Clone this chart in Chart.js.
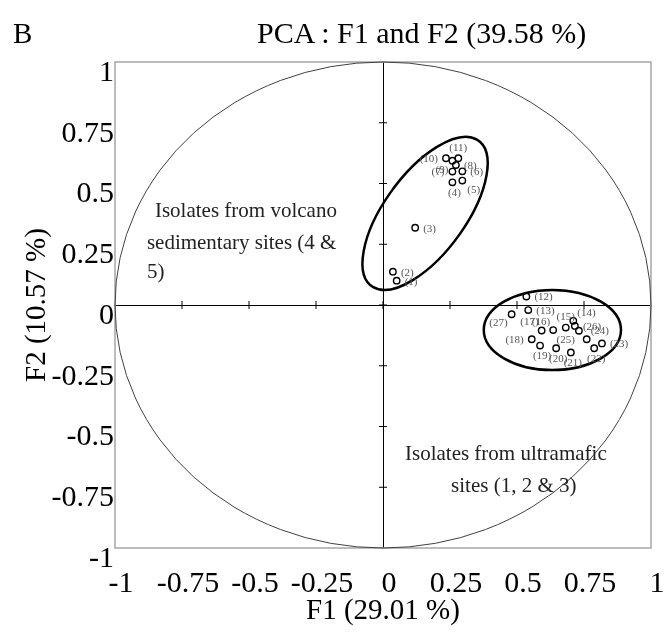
<!DOCTYPE html>
<html>
<head>
<meta charset="utf-8">
<script src="https://cdn.jsdelivr.net/npm/chart.js@4.4.1/dist/chart.umd.min.js"></script>
<style>
  body { margin: 0; background: #fff; }
  #wrap { position: relative; width: 664px; height: 634px; font-family: 'Liberation Serif', 'Times New Roman', serif; color: #000; }
  #panel { position: absolute; left: 13px; top: 18px; font-size: 29px; line-height: 30px; }
  #title { position: absolute; left: 257px; top: 18px; font-size: 30px; line-height: 30px; white-space: nowrap; }
  canvas { position: absolute; left: 0; top: 0; }
</style>
</head>
<body>
<div id="wrap">
  <canvas id="pcaChart" width="664" height="634"></canvas>
  <div id="panel">B</div>
  <div id="title">PCA : F1 and F2 (39.58 %)</div>
</div>
<script>
// isolates 1-11: volcano sedimentary sites, 12-27: ultramafic sites
const isolates = ['1','2','3','4','5','6','7','8','9','10','11','12','13','14','15','16','17','18','19','20','21','22','23','24','25','26','27'];
const f1 = [0.051, 0.037, 0.120, 0.259, 0.296, 0.296, 0.259, 0.272, 0.259, 0.235, 0.281,
            0.535, 0.542, 0.710, 0.682, 0.635, 0.592, 0.555, 0.586, 0.646, 0.701, 0.788, 0.817, 0.760, 0.731, 0.716, 0.480];
const f2 = [0.100, 0.137, 0.318, 0.505, 0.512, 0.550, 0.549, 0.576, 0.594, 0.604, 0.604,
            0.035, -0.021, -0.065, -0.093, -0.103, -0.105, -0.141, -0.167, -0.178, -0.195, -0.178, -0.158, -0.141, -0.106, -0.086, -0.038];
// where the "(n)" label sits around its point
const labelSide = ['r','r','r','b','br','r','l','r','bl','l','t',
                   'r','r','tr','t','tl','tl','l','b','b','b','b','r','tr','bl','r','bl'];
const axisTicks = [-1, -0.75, -0.5, -0.25, 0, 0.25, 0.5, 0.75, 1];

// correlation circle and the two group ellipses (data units, angle in degrees)
const shapes = [
  { cx: 0, cy: 0, a: 1, b: 1, angle: 0, color: '#404040', width: 1 },
  { cx: 0.157, cy: 0.377, a: 0.36, b: 0.155, angle: 57.5, color: '#000', width: 2.5 },
  { cx: 0.632, cy: -0.103, a: 0.256, b: 0.165, angle: 0, color: '#000', width: 2.5 }
];
const notes = [
  { text: 'Isolates from volcano', x: -0.851, y: 0.383 },
  { text: 'sedimentary sites (4 &', x: -0.881, y: 0.255 },
  { text: '5)', x: -0.881, y: 0.132 },
  { text: 'Isolates from ultramafic', x: 0.082, y: -0.617 },
  { text: 'sites (1, 2 & 3)', x: 0.254, y: -0.745 }
];

const serif = "'Liberation Serif', 'Times New Roman', serif";
const sideOffset = {
  r: [8, 1, 'left'], l: [-8, 1, 'right'], t: [0, -10, 'center'], b: [2, 11, 'center'],
  tr: [4, -8, 'left'], tl: [-3, -8, 'right'], br: [5, 10, 'left'], bl: [-4, 9, 'right']
};

function traceEllipse(ctx, x, y, s) {
  const sx = x.getPixelForValue(1) - x.getPixelForValue(0);
  const sy = y.getPixelForValue(0) - y.getPixelForValue(1);
  ctx.save();
  ctx.translate(x.getPixelForValue(s.cx), y.getPixelForValue(s.cy));
  ctx.scale(sx, -sy);
  ctx.rotate(s.angle * Math.PI / 180);
  ctx.beginPath();
  ctx.ellipse(0, 0, s.a, s.b, 0, 0, Math.PI * 2);
  ctx.restore();
}

const pcaDecor = {
  id: 'pcaDecor',
  beforeDatasetsDraw(chart) {
    const { ctx, chartArea: area, scales: { x, y } } = chart;
    ctx.save();
    ctx.strokeStyle = '#a6a6a6';
    ctx.lineWidth = 1.5;
    ctx.strokeRect(area.left, area.top, area.right - area.left, area.bottom - area.top);

    // small crossing ticks on the two zero lines
    const x0 = x.getPixelForValue(0), y0 = y.getPixelForValue(0);
    ctx.strokeStyle = '#000';
    ctx.lineWidth = 1;
    ctx.beginPath();
    axisTicks.forEach(v => {
      if (Math.abs(v) === 1) return;
      const px = x.getPixelForValue(v), py = y.getPixelForValue(v);
      ctx.moveTo(px, y0 - 4); ctx.lineTo(px, y0 + 4);
      ctx.moveTo(x0 - 4, py); ctx.lineTo(x0 + 4, py);
    });
    ctx.stroke();

    shapes.forEach(s => {
      traceEllipse(ctx, x, y, s);
      ctx.strokeStyle = s.color;
      ctx.lineWidth = s.width;
      ctx.stroke();
    });
    ctx.restore();
  },
  afterDatasetsDraw(chart) {
    const { ctx, scales: { x, y } } = chart;
    const meta = chart.getDatasetMeta(0);
    ctx.save();
    ctx.font = '11px ' + serif;
    ctx.fillStyle = '#555';
    ctx.textBaseline = 'middle';
    meta.data.forEach((pt, i) => {
      const o = sideOffset[labelSide[i]];
      ctx.textAlign = o[2];
      ctx.fillText('(' + isolates[i] + ')', pt.x + o[0], pt.y + o[1]);
    });

    ctx.font = '21px ' + serif;
    ctx.fillStyle = '#222';
    ctx.textAlign = 'left';
    notes.forEach(n => {
      ctx.fillText(n.text, x.getPixelForValue(n.x), y.getPixelForValue(n.y));
    });
    ctx.restore();
  }
};

const tickFont = { family: serif, size: 30 };
const titleFont = { family: serif, size: 29 };
const zeroLine = c => (c.tick && c.tick.value === 0) ? '#000' : 'rgba(0,0,0,0)';

new Chart(document.getElementById('pcaChart'), {
  type: 'scatter',
  data: {
    datasets: [{
      data: f1.map((v, i) => ({ x: v, y: f2[i] })),
      pointRadius: 3.2,
      pointBorderWidth: 1.4,
      pointBorderColor: '#000',
      pointBackgroundColor: 'rgba(0,0,0,0)'
    }]
  },
  options: {
    responsive: false,
    animation: false,
    layout: { padding: { top: 62, right: 13, left: 0, bottom: 0 } },
    plugins: { legend: { display: false }, tooltip: { enabled: false } },
    scales: {
      x: {
        min: -1, max: 1,
        afterBuildTicks: s => { s.ticks = axisTicks.map(v => ({ value: v })); },
        afterFit: s => { s.height = 86; s.paddingLeft = 0; s.paddingRight = 0; },
        border: { display: false },
        grid: { drawTicks: false, color: zeroLine, lineWidth: 1 },
        ticks: { autoSkip: false, maxRotation: 0, padding: 18, labelOffset: 6, color: '#000', font: tickFont, callback: v => String(v) },
        title: { display: true, text: 'F1 (29.01 %)', color: '#000', font: titleFont, padding: { top: 0, bottom: 5 } }
      },
      y: {
        min: -1, max: 1,
        afterBuildTicks: s => { s.ticks = axisTicks.map(v => ({ value: v })); },
        afterFit: s => { s.width = 115; s.paddingTop = 0; s.paddingBottom = 0; },
        border: { display: false },
        grid: { drawTicks: false, color: zeroLine, lineWidth: 1 },
        ticks: { autoSkip: false, padding: 1, labelOffset: 11, color: '#000', font: tickFont, callback: v => String(v) },
        title: { display: true, text: 'F2 (10.57 %)', color: '#000', font: titleFont, padding: { top: 20, bottom: 0 } }
      }
    }
  },
  plugins: [pcaDecor]
});
</script>
</body>
</html>
